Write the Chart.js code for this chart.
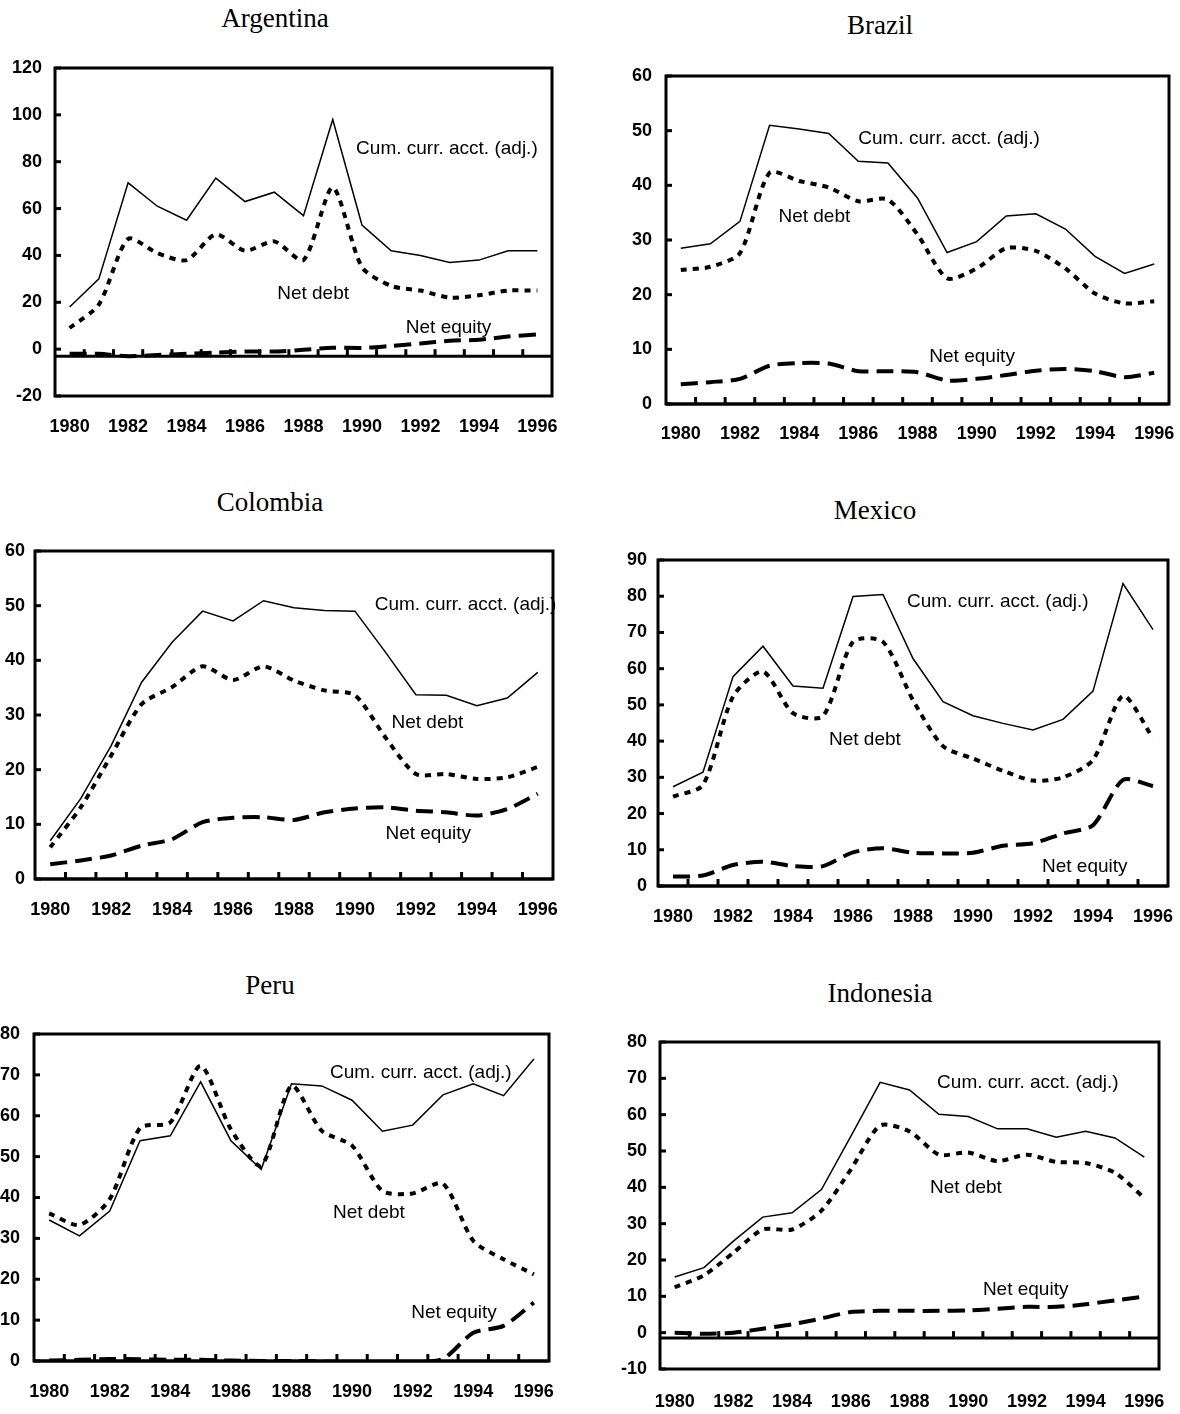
<!DOCTYPE html>
<html>
<head>
<meta charset="utf-8">
<script src="https://cdn.jsdelivr.net/npm/chart.js@4.4.1/dist/chart.umd.min.js"></script>
<style>
  body { margin: 0; background: #fff; }
  #page { position: relative; width: 1180px; height: 1414px; overflow: hidden; background: #fff; }
  .title {
    position: absolute;
    font-family: "Liberation Serif", "Times New Roman", serif;
    font-size: 27px;
    color: #000;
    transform: translate(-50%, -50%);
    white-space: nowrap;
  }
  canvas { position: absolute; }
</style>
</head>
<body>
<div id="page"></div>
<script>
// years on the category axis
const years = ['1980','1981','1982','1983','1984','1985','1986','1987','1988',
               '1989','1990','1991','1992','1993','1994','1995','1996'];

const seriesNames = ['Cum. curr. acct. (adj.)', 'Net debt', 'Net equity'];

// Argentina
const argentinaCum    = [18, 30, 71, 61, 55, 73, 63, 67, 57, 98, 53, 42, 40, 37, 38, 42, 42];
const argentinaDebt   = [9, 19, 47, 41, 38, 49, 42, 46, 38, 69, 35, 27, 25, 22, 23, 25, 25];
const argentinaEquity = [-2, -2, -3, -2.5, -2, -1.5, -1, -1, -0.3, 0.6, 0.5, 1.4, 2.4, 3.6, 4, 5.4, 6.3];

// Brazil
const brazilCum    = [28.5, 29.3, 33.4, 51, 50.3, 49.5, 44.4, 44.1, 37.7, 27.7, 29.7, 34.4, 34.8, 32, 27, 23.9, 25.6];
const brazilDebt   = [24.5, 25.1, 27.6, 42.3, 40.8, 39.6, 37.1, 37.4, 31, 23, 24.8, 28.5, 28, 24.8, 20.2, 18.4, 18.8];
const brazilEquity = [3.6, 4, 4.6, 7, 7.5, 7.4, 6, 6, 5.8, 4.3, 4.6, 5.3, 6.1, 6.4, 6, 4.9, 5.7];

// Colombia
const colombiaCum    = [7, 14.7, 24.4, 36, 43.3, 49, 47.2, 50.9, 49.6, 49.1, 49, 41.5, 33.7, 33.6, 31.7, 33.1, 37.8];
const colombiaDebt   = [5.8, 13.1, 22.6, 32, 35.1, 38.9, 36.4, 38.9, 36.3, 34.5, 33.6, 25.9, 19.2, 19.2, 18.3, 18.6, 20.5];
const colombiaEquity = [2.7, 3.4, 4.3, 6.1, 7.3, 10.4, 11.2, 11.3, 10.8, 12.2, 12.9, 13.1, 12.5, 12.2, 11.6, 12.8, 15.6];

// Mexico
const mexicoCum    = [27.4, 31.4, 57.8, 66.2, 55.2, 54.6, 79.9, 80.5, 62.8, 50.9, 47, 44.9, 43.1, 46, 53.8, 83.5, 70.8];
const mexicoDebt   = [24.7, 27.9, 52.3, 59.2, 47.7, 46.9, 67.4, 67.4, 51.3, 38.6, 35.2, 31.8, 29.1, 30, 34.8, 52.5, 40.8];
const mexicoEquity = [2.6, 2.9, 5.8, 6.7, 5.5, 5.5, 9.3, 10.4, 9.2, 9, 9.2, 11.1, 11.8, 14.5, 16.8, 29.3, 27.6];

// Peru
const peruCum    = [34.5, 30.6, 36.7, 53.9, 55.1, 68.3, 53.9, 46.9, 67.8, 67.3, 63.8, 56.2, 57.7, 65.1, 67.8, 64.9, 73.9];
const peruDebt   = [36.1, 33.3, 39.6, 57, 58.4, 72.2, 56.7, 47.8, 67.3, 56.3, 52.7, 41.6, 41, 43.4, 29.4, 24.9, 21.2];
const peruEquity = [0.1, 0.3, 0.5, 0.4, 0.3, 0.3, 0.1, 0, 0, -0.1, -0.3, -0.5, -0.3, 0.5, 6.9, 8.6, 14.3];

// Indonesia
const indonesiaCum    = [15.3, 17.9, 25.2, 31.8, 33, 39.4, 54, 68.9, 66.8, 60.1, 59.5, 56.1, 56.1, 53.8, 55.4, 53.6, 48.3];
const indonesiaDebt   = [12.5, 15.8, 22, 28.4, 28.4, 33.6, 44.9, 57, 55.4, 49, 49.6, 47.2, 49, 47, 46.7, 44, 37.1];
const indonesiaEquity = [0, -0.3, 0, 1.1, 2.3, 3.9, 5.7, 6, 6, 6, 6.1, 6.6, 7.1, 7.1, 7.8, 8.9, 9.9];

// layout of the six panels (page pixels), y range, where the labels sit
const panels = [
  { title: 'Argentina', tx: 275, ty: 18, data: [argentinaCum, argentinaDebt, argentinaEquity],
    yMin: -20, yMax: 120, step: 20, crossAt: -3,
    canvas: [0, 40, 585, 420], L: 55, R: 552, T: 68, B: 396, yGap: 13, xLab: 427,
    notes: [[1989.8, 85.7], [1987.1, 23.6], [1991.5, 9.3]] },
  { title: 'Brazil', tx: 880, ty: 25, data: [brazilCum, brazilDebt, brazilEquity],
    yMin: 0, yMax: 60, step: 10, crossAt: 0,
    canvas: [595, 45, 585, 420], L: 666, R: 1169, T: 76, B: 404, yGap: 14, xLab: 434,
    notes: [[1986.0, 48.6], [1983.3, 34.2], [1988.4, 8.6]] },
  { title: 'Colombia', tx: 270, ty: 502, data: [colombiaCum, colombiaDebt, colombiaEquity],
    yMin: 0, yMax: 60, step: 10, crossAt: 0,
    canvas: [0, 525, 585, 420], L: 35, R: 553, T: 551, B: 879, yGap: 10, xLab: 910,
    notes: [[1990.65, 50.1], [1991.2, 28.5], [1991.0, 8.2]] },
  { title: 'Mexico', tx: 875, ty: 510, data: [mexicoCum, mexicoDebt, mexicoEquity],
    yMin: 0, yMax: 90, step: 10, crossAt: 0,
    canvas: [595, 530, 585, 420], L: 658, R: 1168, T: 560, B: 886, yGap: 11, xLab: 917,
    notes: [[1987.8, 78.5], [1985.2, 40.3], [1992.3, 5.2]] },
  { title: 'Peru', tx: 270, ty: 985, data: [peruCum, peruDebt, peruEquity],
    yMin: 0, yMax: 80, step: 10, crossAt: 0,
    canvas: [0, 1005, 585, 409], L: 34, R: 549, T: 1034, B: 1361, yGap: 14, xLab: 1392,
    notes: [[1989.27, 70.6], [1989.37, 36.3], [1991.95, 11.8]] },
  { title: 'Indonesia', tx: 880, ty: 993, data: [indonesiaCum, indonesiaDebt, indonesiaEquity],
    yMin: -10, yMax: 80, step: 10, crossAt: -1.5,
    canvas: [595, 1015, 585, 399], L: 660, R: 1159, T: 1042, B: 1369, yGap: 13, xLab: 1402,
    notes: [[1988.94, 68.7], [1988.7, 39.8], [1990.5, 11.9]] }
];

const tickFont = { family: '"Liberation Sans", Arial, sans-serif', size: 18, weight: 'bold' };
const noteFont = '19px "Liberation Sans", Arial, sans-serif';

// box, thick zero line and the little inward ticks
const framePlugin = {
  id: 'frame',
  beforeDatasetsDraw(chart, args, opts) {
    const { ctx, chartArea: a, scales: { x, y } } = chart;
    ctx.save();
    ctx.strokeStyle = '#000';
    ctx.lineWidth = 3;
    ctx.strokeRect(a.left, a.top, a.right - a.left, a.bottom - a.top);
    const yc = y.getPixelForValue(opts.crossAt);
    ctx.beginPath();
    ctx.moveTo(a.left, yc);
    ctx.lineTo(a.right, yc);
    ctx.stroke();
    for (let i = 0; i < chart.data.labels.length - 1; i++) {
      const px = x.getPixelForValue(i + 0.5);
      ctx.beginPath();
      ctx.moveTo(px, yc);
      ctx.lineTo(px, yc - 7);
      ctx.stroke();
    }
    for (const t of y.ticks) {
      const py = y.getPixelForValue(t.value);
      ctx.beginPath();
      ctx.moveTo(a.left, py);
      ctx.lineTo(a.left + 6, py);
      ctx.stroke();
    }
    ctx.restore();
  }
};

// series names written next to the lines
const notesPlugin = {
  id: 'notes',
  afterDatasetsDraw(chart, args, opts) {
    const { ctx, scales: { x, y } } = chart;
    ctx.save();
    ctx.fillStyle = '#000';
    ctx.font = noteFont;
    ctx.textAlign = 'left';
    ctx.textBaseline = 'middle';
    opts.items.forEach(([yr, val], i) => {
      ctx.fillText(seriesNames[i], x.getPixelForValue(yr - 1980), y.getPixelForValue(val));
    });
    ctx.restore();
  }
};

const page = document.getElementById('page');

panels.forEach(p => {
  const t = document.createElement('div');
  t.className = 'title';
  t.textContent = p.title;
  t.style.left = p.tx + 'px';
  t.style.top = p.ty + 'px';
  page.appendChild(t);

  const [cx, cy, cw, ch] = p.canvas;
  const canvas = document.createElement('canvas');
  canvas.width = cw;
  canvas.height = ch;
  canvas.style.left = cx + 'px';
  canvas.style.top = cy + 'px';
  page.appendChild(canvas);

  const yAxisWidth = p.L - cx;
  const xAxisHeight = cy + ch - p.B;

  new Chart(canvas.getContext('2d'), {
    type: 'line',
    data: {
      labels: years,
      datasets: [
        { label: seriesNames[0], data: p.data[0], borderColor: '#000', borderWidth: 1.5,
          pointRadius: 0, tension: 0, fill: false },
        { label: seriesNames[1], data: p.data[1], borderColor: '#000', borderWidth: 4,
          borderDash: [6, 6], pointRadius: 0, tension: 0.25, fill: false },
        { label: seriesNames[2], data: p.data[2], borderColor: '#000', borderWidth: 4,
          borderDash: [17, 8], pointRadius: 0, tension: 0.25, fill: false }
      ]
    },
    options: {
      responsive: false,
      animation: false,
      devicePixelRatio: 1,
      layout: { padding: { top: p.T - cy, right: cx + cw - p.R, left: 0, bottom: 0 } },
      plugins: {
        legend: { display: false },
        tooltip: { enabled: false },
        frame: { crossAt: p.crossAt },
        notes: { items: p.notes }
      },
      scales: {
        x: {
          type: 'category',
          offset: true,
          grid: { display: false, drawTicks: false },
          border: { display: false },
          ticks: {
            autoSkip: false, maxRotation: 0, minRotation: 0,
            color: '#000', font: tickFont,
            padding: p.xLab - p.B - 11,
            callback: function (v, i) { return i % 2 === 0 ? this.getLabelForValue(v) : ''; }
          },
          afterFit: s => { s.height = xAxisHeight; s.paddingLeft = 0; s.paddingRight = 0; }
        },
        y: {
          min: p.yMin, max: p.yMax,
          grid: { display: false, drawTicks: false },
          border: { display: false },
          ticks: { stepSize: p.step, color: '#000', font: tickFont, padding: p.yGap },
          afterFit: s => { s.width = yAxisWidth; s.paddingTop = 0; s.paddingBottom = 0; }
        }
      }
    },
    plugins: [framePlugin, notesPlugin]
  });
});
</script>
</body>
</html>
